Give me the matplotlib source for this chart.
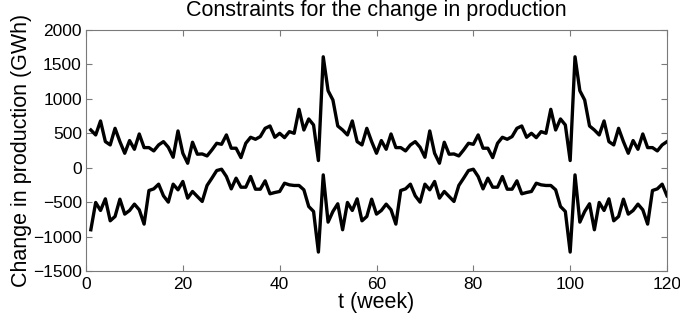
import numpy as np
import matplotlib
matplotlib.use('Agg')
import matplotlib.pyplot as plt

plt.rcParams['font.family'] = ['Liberation Sans', 'DejaVu Sans']

# weeks 1..120
weeks = np.arange(1, 121)

# upper constraint (GWh)
upper = [548, 476, 679, 379, 331, 572, 379, 210, 394, 268, 490, 292, 292, 244, 331, 379,
         297, 152, 534, 210, 65, 370, 196, 200, 171, 258, 355, 340, 476, 283, 283, 147,
         355, 442, 413, 452, 572, 606, 442, 500, 437, 524, 500, 848, 548, 708, 621, 104,
         1611, 1118, 983, 606,
         548, 476, 679, 379, 331, 572, 379, 210, 394, 268, 490, 292, 292, 244, 331, 379,
         297, 152, 534, 210, 65, 370, 196, 200, 171, 258, 355, 340, 476, 283, 283, 147,
         355, 442, 413, 452, 572, 606, 442, 500, 437, 524, 500, 848, 548, 708, 621, 104,
         1611, 1118, 983, 606,
         548, 476, 679, 379, 331, 572, 379, 210, 394, 268, 490, 292, 292, 244, 331, 379]

# lower constraint (GWh)
lower = [-901, -505, -621, -452, -771, -708, -457, -674, -621, -529, -611, -819, -331, -307, -239, -408,
         -500, -239, -321, -200, -442, -345, -418, -490, -258, -152, -41, -22, -128, -307, -152, -283,
         -283, -128, -312, -312, -191, -379, -360, -345, -225, -249, -258, -258, -321, -563, -635, -1225,
         -104, -790, -635, -524,
         -901, -505, -621, -452, -771, -708, -457, -674, -621, -529, -611, -819, -331, -307, -239, -408,
         -500, -239, -321, -200, -442, -345, -418, -490, -258, -152, -41, -22, -128, -307, -152, -283,
         -283, -128, -312, -312, -191, -379, -360, -345, -225, -249, -258, -258, -321, -563, -635, -1225,
         -104, -790, -635, -524,
         -901, -505, -621, -452, -771, -708, -457, -674, -621, -529, -611, -819, -331, -307, -239, -408]

fig = plt.figure(figsize=(6.8, 3.22), dpi=100)
ax = fig.add_axes([86/680, 1 - 271/322, 581/680, 241/322])

ax.plot(weeks, upper, color='black', lw=2.4)
ax.plot(weeks, lower, color='black', lw=2.4)

ax.set_xlim(0, 120)
ax.set_ylim(-1500, 2000)
ax.set_xticks(np.arange(0, 121, 20))
ax.set_yticks(np.arange(-1500, 2001, 500))
ax.tick_params(direction='in', top=True, right=True, length=4, labelsize=12.5,
               color='#7a7a7a')
ax.tick_params(axis='x', pad=4)
ax.tick_params(axis='y', pad=3)
for s in ax.spines.values():
    s.set_color('#7a7a7a')
    s.set_linewidth(0.8)

ax.set_title('Constraints for the change in production', fontsize=15.5, pad=10)
ax.set_xlabel('t (week)', fontsize=15.5, labelpad=0)
ax.set_ylabel('Change in production (GWh)', fontsize=15.5, labelpad=1)

plt.savefig('out.png', dpi=100)
